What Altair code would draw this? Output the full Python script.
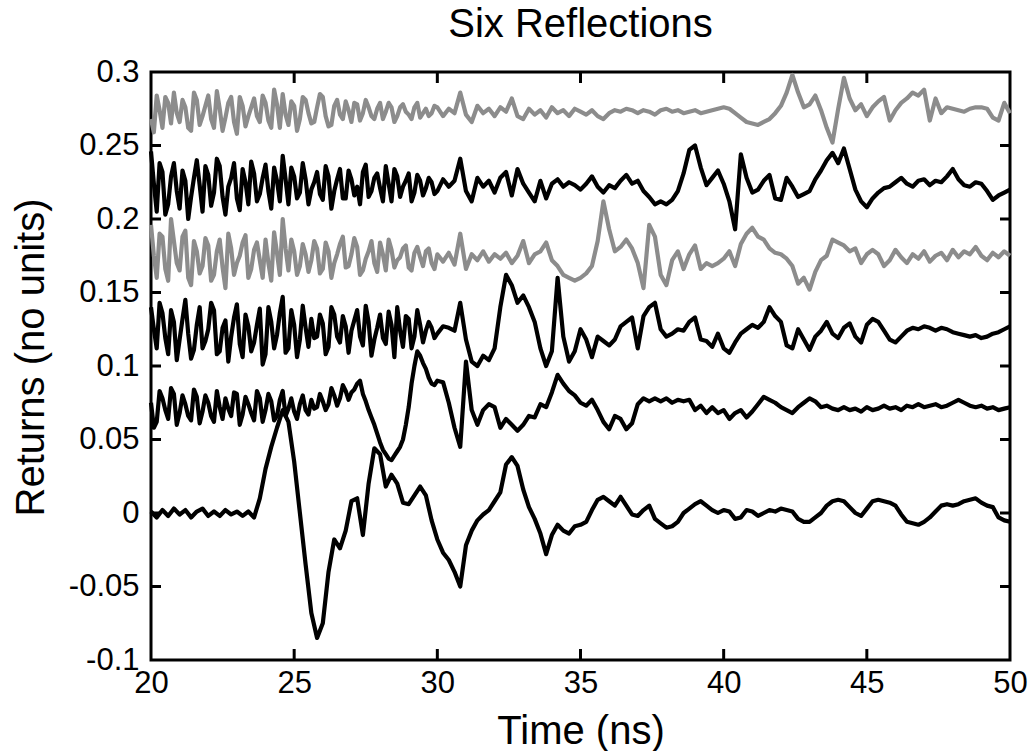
import altair as alt
import pandas as pd

chart_title = "Six Reflections"

# time grids (ns): coarse grid for all traces, mid-points for the noisy early part
time_ns = [round(20 + 0.2 * i, 1) for i in range(151)]
time_mid = [round(20.1 + 0.2 * i, 1) for i in range(50)]

r1 = [0.268, 0.284, 0.262, 0.279, 0.286, 0.266, 0.276, 0.26, 0.281, 0.27,
      0.284, 0.262, 0.275, 0.269, 0.283, 0.258, 0.277, 0.27, 0.282, 0.266,
      0.279, 0.262, 0.278, 0.285, 0.264, 0.277, 0.268, 0.281, 0.265, 0.276,
      0.283, 0.263, 0.277, 0.271, 0.28, 0.266, 0.278, 0.272, 0.276, 0.268,
      0.279, 0.273, 0.276, 0.27, 0.278, 0.271, 0.276, 0.269, 0.275, 0.272,
      0.276, 0.27, 0.275, 0.272, 0.286, 0.271, 0.266, 0.277, 0.272, 0.275,
      0.27, 0.276, 0.273, 0.282, 0.27, 0.268, 0.275, 0.271, 0.274, 0.269,
      0.276, 0.272, 0.274, 0.27, 0.275, 0.273, 0.271, 0.274, 0.27, 0.268,
      0.272, 0.274, 0.273, 0.275, 0.274, 0.272, 0.274, 0.273, 0.271, 0.274,
      0.275, 0.273, 0.274, 0.272, 0.273, 0.274, 0.272, 0.273, 0.274, 0.275,
      0.276, 0.275, 0.272, 0.269, 0.266, 0.265, 0.264, 0.266, 0.268, 0.272,
      0.277, 0.286, 0.298, 0.286, 0.276, 0.278, 0.284, 0.274, 0.262, 0.252,
      0.275, 0.296, 0.282, 0.274, 0.278, 0.27, 0.276, 0.28, 0.283, 0.267,
      0.274, 0.279, 0.282, 0.286, 0.284, 0.288, 0.267, 0.282, 0.272, 0.276,
      0.275, 0.274, 0.273, 0.275, 0.276, 0.276, 0.275, 0.269, 0.267, 0.279, 0.272]
r1_mid = [0.259, 0.274, 0.283, 0.265, 0.272, 0.281, 0.262, 0.286, 0.264, 0.277,
          0.268, 0.287, 0.26, 0.279, 0.266, 0.283, 0.263, 0.276, 0.27, 0.284,
          0.267, 0.288, 0.262, 0.271, 0.28, 0.26, 0.283, 0.272, 0.266, 0.285,
          0.27, 0.264, 0.281, 0.268, 0.274, 0.279, 0.267, 0.281, 0.27, 0.275,
          0.268, 0.279, 0.266, 0.276, 0.273, 0.268, 0.279, 0.272, 0.27, 0.277]

r2 = [0.246, 0.205, 0.232, 0.21, 0.238, 0.207, 0.226, 0.215, 0.24, 0.205,
      0.23, 0.218, 0.236, 0.203, 0.228, 0.214, 0.234, 0.21, 0.231, 0.217,
      0.237, 0.207, 0.226, 0.243, 0.21, 0.229, 0.218, 0.227, 0.22, 0.232,
      0.213, 0.229, 0.219, 0.234, 0.214, 0.227, 0.222, 0.232, 0.215, 0.228,
      0.221, 0.236, 0.212, 0.229, 0.222, 0.231, 0.218, 0.226, 0.221, 0.225,
      0.219, 0.227, 0.222, 0.226, 0.241, 0.219, 0.212, 0.228, 0.222, 0.226,
      0.218, 0.228, 0.232, 0.216, 0.234, 0.224, 0.218, 0.212, 0.226, 0.214,
      0.224, 0.227, 0.222, 0.225, 0.223, 0.22, 0.224, 0.229, 0.222, 0.218,
      0.223, 0.221, 0.226, 0.23, 0.224, 0.226, 0.219, 0.215, 0.21, 0.212,
      0.21, 0.213, 0.219, 0.231, 0.247, 0.25, 0.235, 0.223, 0.228, 0.233,
      0.224, 0.212, 0.193, 0.244, 0.228, 0.218, 0.22, 0.226, 0.23, 0.214,
      0.213, 0.228, 0.222, 0.215, 0.217, 0.219, 0.227, 0.233, 0.24, 0.245,
      0.238, 0.248, 0.234, 0.22, 0.212, 0.208, 0.214, 0.218, 0.221, 0.222,
      0.225, 0.228, 0.224, 0.222, 0.226, 0.227, 0.223, 0.226, 0.225, 0.229,
      0.234, 0.227, 0.223, 0.222, 0.225, 0.224, 0.219, 0.213, 0.216, 0.218, 0.22]
r2_mid = [0.224, 0.238, 0.203, 0.229, 0.219, 0.233, 0.2, 0.228, 0.223, 0.236,
          0.209, 0.241, 0.215, 0.222, 0.238, 0.206, 0.225, 0.239, 0.212, 0.228,
          0.219, 0.235, 0.212, 0.227, 0.235, 0.214, 0.238, 0.21, 0.225, 0.217,
          0.236, 0.207, 0.227, 0.214, 0.233, 0.216, 0.21, 0.237, 0.219, 0.231,
          0.212, 0.224, 0.234, 0.215, 0.226, 0.212, 0.23, 0.216, 0.228, 0.217]

r3 = [0.196, 0.16, 0.188, 0.158, 0.185, 0.165, 0.192, 0.155, 0.178, 0.168,
      0.182, 0.162, 0.186, 0.153, 0.18, 0.17, 0.184, 0.16, 0.179, 0.172,
      0.186, 0.158, 0.177, 0.2, 0.165, 0.178, 0.168, 0.176, 0.172, 0.18,
      0.166, 0.178, 0.17, 0.183, 0.167, 0.176, 0.181, 0.165, 0.178, 0.17,
      0.184, 0.165, 0.179, 0.172, 0.18, 0.167, 0.177, 0.174, 0.178, 0.17,
      0.176, 0.171, 0.177, 0.169, 0.19, 0.166, 0.176, 0.172, 0.178, 0.171,
      0.176, 0.173, 0.177, 0.17, 0.175, 0.185, 0.17, 0.176, 0.178, 0.184,
      0.172, 0.168, 0.162, 0.16, 0.158, 0.16, 0.163, 0.168, 0.185, 0.212,
      0.193, 0.178, 0.181, 0.186, 0.18, 0.17, 0.153, 0.196, 0.188, 0.162,
      0.155, 0.172, 0.178, 0.166, 0.176, 0.182, 0.166, 0.17, 0.168, 0.17,
      0.173, 0.178, 0.168, 0.183, 0.19, 0.194, 0.188, 0.186, 0.18, 0.177,
      0.176, 0.173, 0.168, 0.156, 0.16, 0.152, 0.164, 0.172, 0.175, 0.186,
      0.184, 0.182, 0.178, 0.18, 0.17, 0.176, 0.179, 0.176, 0.168, 0.172,
      0.179, 0.174, 0.17, 0.176, 0.173, 0.178, 0.171, 0.175, 0.177, 0.172,
      0.179, 0.174, 0.178, 0.176, 0.181, 0.175, 0.172, 0.177, 0.174, 0.178, 0.175]
r3_mid = [0.175, 0.19, 0.166, 0.2, 0.17, 0.188, 0.16, 0.185, 0.163, 0.187,
          0.158, 0.178, 0.167, 0.19, 0.162, 0.175, 0.189, 0.166, 0.184, 0.16,
          0.17, 0.191, 0.162, 0.18, 0.186, 0.162, 0.183, 0.164, 0.185, 0.163,
          0.184, 0.16, 0.176, 0.188, 0.168, 0.187, 0.162, 0.173, 0.185, 0.164,
          0.176, 0.186, 0.167, 0.174, 0.182, 0.165, 0.181, 0.168, 0.18, 0.166]

r4 = [0.14, 0.112, 0.136, 0.108, 0.13, 0.118, 0.145, 0.105, 0.128, 0.112,
      0.125, 0.138, 0.11, 0.131, 0.12, 0.142, 0.106, 0.127, 0.116, 0.139,
      0.108, 0.13, 0.121, 0.147, 0.112, 0.128, 0.118, 0.126, 0.132, 0.12,
      0.129, 0.113, 0.135, 0.116, 0.127, 0.124, 0.138, 0.114, 0.13, 0.118,
      0.135, 0.115, 0.128, 0.14, 0.113, 0.132, 0.12, 0.128, 0.124, 0.126,
      0.122, 0.127, 0.126, 0.124, 0.143, 0.118, 0.103, 0.1, 0.107, 0.104,
      0.112, 0.14, 0.162, 0.155, 0.143, 0.148, 0.14, 0.13, 0.112, 0.1,
      0.11, 0.16, 0.12, 0.103, 0.11, 0.125, 0.118, 0.106, 0.12, 0.117,
      0.114, 0.118, 0.127, 0.13, 0.133, 0.112, 0.134, 0.14, 0.143, 0.125,
      0.12, 0.122, 0.125, 0.124, 0.13, 0.133, 0.118, 0.117, 0.113, 0.122,
      0.112, 0.109, 0.116, 0.122, 0.125, 0.128, 0.126, 0.13, 0.14, 0.134,
      0.13, 0.114, 0.112, 0.125, 0.118, 0.111, 0.12, 0.124, 0.13, 0.122,
      0.119, 0.126, 0.129, 0.12, 0.116, 0.128, 0.132, 0.13, 0.124, 0.118,
      0.116, 0.12, 0.124, 0.126, 0.125, 0.127, 0.126, 0.124, 0.126, 0.125,
      0.123, 0.122, 0.121, 0.12, 0.121, 0.119, 0.12, 0.122, 0.123, 0.125, 0.127]
r4_mid = [0.125, 0.143, 0.119, 0.138, 0.104, 0.132, 0.122, 0.111, 0.14, 0.117,
          0.143, 0.108, 0.126, 0.103, 0.133, 0.115, 0.135, 0.11, 0.128, 0.101,
          0.14, 0.112, 0.136, 0.109, 0.138, 0.106, 0.141, 0.113, 0.119, 0.135,
          0.108, 0.14, 0.12, 0.134, 0.109, 0.131, 0.12, 0.141, 0.107, 0.126,
          0.119, 0.137, 0.106, 0.124, 0.134, 0.112, 0.138, 0.116, 0.13, 0.119]

r5 = [0.075, 0.062, 0.078, 0.064, 0.081, 0.068, 0.074, 0.063, 0.079, 0.069,
      0.075, 0.062, 0.072, 0.078, 0.066, 0.081, 0.067, 0.074, 0.063, 0.078,
      0.07, 0.076, 0.066, 0.083, 0.071, 0.069, 0.074, 0.07, 0.077, 0.072,
      0.076, 0.074, 0.08, 0.078, 0.083, 0.082, 0.088, 0.081, 0.07, 0.06,
      0.048, 0.04, 0.036, 0.042, 0.05, 0.072, 0.1, 0.107, 0.098, 0.088,
      0.09, 0.089, 0.075, 0.058, 0.045, 0.103, 0.07, 0.06, 0.07, 0.074,
      0.072, 0.058, 0.064, 0.06, 0.056, 0.06, 0.066, 0.065, 0.074, 0.072,
      0.082, 0.094, 0.088, 0.083, 0.08, 0.075, 0.073, 0.077, 0.07, 0.062,
      0.057, 0.066, 0.064, 0.057, 0.061, 0.074, 0.078, 0.076, 0.078, 0.076,
      0.078, 0.075, 0.077, 0.076, 0.077, 0.07, 0.073, 0.068, 0.072, 0.068,
      0.07, 0.064, 0.068, 0.07, 0.065, 0.069, 0.074, 0.079, 0.077, 0.075,
      0.072, 0.07, 0.068, 0.072, 0.075, 0.078, 0.076, 0.072, 0.073, 0.071,
      0.07, 0.072, 0.07, 0.071, 0.069, 0.072, 0.07, 0.071, 0.073, 0.071,
      0.072, 0.07, 0.073, 0.072, 0.074, 0.072, 0.073, 0.074, 0.072, 0.073,
      0.075, 0.077, 0.075, 0.073, 0.072, 0.073, 0.071, 0.072, 0.07, 0.071, 0.072]
r5_mid = [0.058, 0.083, 0.07, 0.085, 0.06, 0.08, 0.066, 0.084, 0.061, 0.08,
          0.066, 0.083, 0.064, 0.071, 0.082, 0.06, 0.079, 0.068, 0.083, 0.062,
          0.081, 0.063, 0.077, 0.066, 0.078, 0.064, 0.08, 0.067, 0.071, 0.081,
          0.07, 0.085, 0.073, 0.087, 0.077, 0.084, 0.09, 0.076, 0.065, 0.054,
          0.043, 0.037, 0.039, 0.045, 0.06, 0.088, 0.11, 0.102, 0.092, 0.087]

r6 = [0.001, -0.003, 0.002, -0.002, 0.003, -0.001, 0.002, -0.003, 0.001, 0.003,
      -0.002, 0.001, -0.002, 0.002, -0.001, 0.001, -0.002, 0.001, -0.003, 0.01,
      0.03, 0.045, 0.058, 0.07, 0.062, 0.035, 0.0, -0.035, -0.068, -0.085,
      -0.075, -0.04, -0.018, -0.024, -0.012, 0.008, 0.01, -0.015, 0.02, 0.044,
      0.04, 0.018, 0.026, 0.02, 0.007, 0.006, 0.012, 0.018, 0.012, -0.005,
      -0.018, -0.027, -0.032, -0.04, -0.05, -0.022, -0.012, -0.005, -0.001, 0.002,
      0.008, 0.014, 0.033, 0.038, 0.032, 0.016, 0.004, -0.004, -0.014, -0.028,
      -0.015, -0.008, -0.012, -0.014, -0.009, -0.008, -0.006, 0.002, 0.009, 0.011,
      0.008, 0.005, 0.011, 0.005, -0.001, -0.002, 0.002, 0.005, -0.004, -0.007,
      -0.01, -0.009, -0.006, 0.0, 0.003, 0.006, 0.008, 0.005, 0.002, 0.0,
      0.002, 0.001, -0.004, -0.003, 0.002, 0.001, -0.002, 0.0, 0.002, 0.001,
      0.003, 0.002, 0.001, -0.004, -0.006, -0.006, -0.003, 0.0, 0.005, 0.008,
      0.009, 0.008, 0.004, 0.0, -0.002, 0.003, 0.008, 0.009, 0.008, 0.007,
      0.005, -0.001, -0.006, -0.007, -0.008, -0.006, -0.003, 0.001, 0.005, 0.006,
      0.005, 0.006, 0.008, 0.009, 0.01, 0.007, 0.005, 0.004, -0.003, -0.005, -0.006]

trace_names = ["r1", "r2", "r3", "r4", "r5", "r6"]
trace_colors = ["#8c8c8c", "#000000", "#8c8c8c", "#000000", "#000000", "#000000"]
x_ticks = [20, 25, 30, 35, 40, 45, 50]
y_ticks = [-0.1, -0.05, 0, 0.05, 0.1, 0.15, 0.2, 0.25, 0.3]
x_inner_ticks = [25, 30, 35, 40, 45]
y_inner_ticks = [-0.05, 0, 0.05, 0.1, 0.15, 0.2, 0.25]

series = [r1, r2, r3, r4, r5, r6]
mids = [r1_mid, r2_mid, r3_mid, r4_mid, r5_mid, []]
rows = []
for name, vals, mvals in zip(trace_names, series, mids):
    for t, v in zip(time_ns, vals):
        rows.append({"t": t, "v": v, "trace": name})
    for t, v in zip(time_mid, mvals):
        rows.append({"t": t, "v": v, "trace": name})
df = pd.DataFrame(rows).sort_values(["trace", "t"])
gray_set = [n for n, c in zip(trace_names, trace_colors) if c != "#000000"]
df_black = df[~df.trace.isin(gray_set)]
df_gray = df[df.trace.isin(gray_set)]

W, H = 859, 588
FONT = "Liberation Sans"
X0, X1, Y0, Y1 = 20, 50, -0.1, 0.3
TX = (X1 - X0) * 10 / W   # 10 px tick length in data units
TY = (Y1 - Y0) * 11 / H   # 11 px tick length in data units

xscale = alt.Scale(domain=[X0, X1], nice=False, zero=False)
yscale = alt.Scale(domain=[Y0, Y1], nice=False, zero=False)

xaxis = alt.Axis(values=x_ticks, title="Time (ns)", grid=False, domain=False,
                 tickSize=0, labelPadding=8, labelFontSize=31, labelFont=FONT,
                 labelColor="black", labelFlush=False, labelOverlap=False,
                 titleFont=FONT, titleFontSize=40, titleFontWeight="normal",
                 titleColor="black", titleX=W / 2, titleY=83,
                 titleBaseline="alphabetic", titleAlign="center")
yaxis = alt.Axis(values=y_ticks, title="Returns (no units)", grid=False, domain=False,
                 tickSize=0, labelPadding=12, labelFontSize=31, labelFont=FONT,
                 labelColor="black", labelFlush=False, labelOverlap=False,
                 labelExpr="'' + datum.value",
                 titleFont=FONT, titleFontSize=40, titleFontWeight="normal",
                 titleColor="black", titleX=-108, titleY=285, titleAngle=270,
                 titleBaseline="alphabetic", titleAlign="center")


def lines(d, color):
    return alt.Chart(d).mark_line(color=color, strokeWidth=4.2, strokeJoin="round").encode(
        x=alt.X("t:Q", scale=xscale, axis=xaxis),
        y=alt.Y("v:Q", scale=yscale, axis=yaxis),
        detail="trace:N",
    )


black = lines(df_black, "#000000")
gray = lines(df_gray, "#8c8c8c")

xt = pd.DataFrame({"t": x_inner_ticks})
yt = pd.DataFrame({"v": y_inner_ticks})
tick_style = dict(color="black", strokeWidth=3)

bot = alt.Chart(xt).transform_calculate(a=f"{Y0}", b=f"{Y0 + TY}").mark_rule(**tick_style).encode(
    x=alt.X("t:Q", scale=xscale), y=alt.Y("a:Q", scale=yscale), y2="b:Q")
topt = alt.Chart(xt).transform_calculate(a=f"{Y1}", b=f"{Y1 - TY}").mark_rule(**tick_style).encode(
    x=alt.X("t:Q", scale=xscale), y=alt.Y("a:Q", scale=yscale), y2="b:Q")
lef = alt.Chart(yt).transform_calculate(a=f"{X0}", b=f"{X0 + TX}").mark_rule(**tick_style).encode(
    y=alt.Y("v:Q", scale=yscale), x=alt.X("a:Q", scale=xscale), x2="b:Q")
rig = alt.Chart(yt).transform_calculate(a=f"{X1}", b=f"{X1 - TX}").mark_rule(**tick_style).encode(
    y=alt.Y("v:Q", scale=yscale), x=alt.X("a:Q", scale=xscale), x2="b:Q")

title_mark = alt.Chart(pd.DataFrame({"label": [chart_title]})).mark_text(
    font=FONT, fontSize=40, color="black", align="center", baseline="alphabetic"
).encode(text="label:N", x=alt.value(W / 2), y=alt.value(-35))

chart = alt.layer(black, gray, bot, topt, lef, rig, title_mark).properties(
    width=W, height=H,
    background="white",
    autosize=alt.AutoSizeParams(type="none"),
    padding={"left": 151, "top": 72, "right": 23, "bottom": 91},
).configure_view(stroke="black", strokeWidth=3)

chart.save("out.html", embed_options={"renderer": "svg", "actions": False})
